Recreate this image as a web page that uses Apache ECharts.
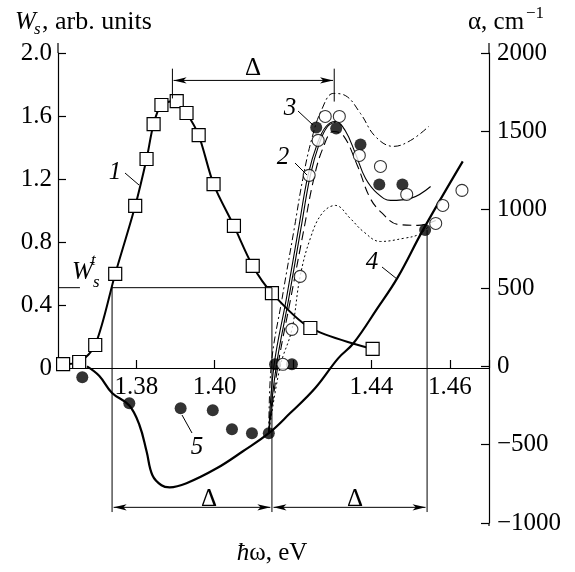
<!DOCTYPE html>
<html><head><meta charset="utf-8">
<script src="https://cdn.jsdelivr.net/npm/echarts@6/dist/echarts.min.js"></script>
<style>html,body{margin:0;padding:0;background:#fff}#c{width:575px;height:572px}</style>
</head><body><div id="c"></div>
<script>
const FONT = '"Liberation Serif","Times New Roman","DejaVu Serif",serif';

// ---- axes ----
const xRange = [1.36, 1.47];
const xLabelValues = [1.38, 1.40, 1.44, 1.46];
const wRange = [0, 2.0];
const alphaRange = [-1000, 2000];

// ---- curve 1: W_s (squares) ----
const c1X = [1.3613,1.3654,1.3695,1.3746,1.3797,1.3826,1.3844,1.3864,1.3903,1.3928,1.3959,1.3997,1.4049,1.4097,1.4146,1.4244,1.4403];
const c1W = [0.025,0.038,0.146,0.597,1.029,1.327,1.549,1.670,1.695,1.619,1.479,1.168,0.902,0.648,0.476,0.254,0.121];

// ---- curve 4 (thick solid, alpha) ----
const c4X = [1.3674,1.3705,1.3738,1.3782,1.3808,1.3826,1.3841,1.3864,1.3885,1.3928,1.4005,1.4072,1.4138,1.4192,1.4256,1.4315,1.4354,1.4415,1.4467,1.4531,1.4633];
const c4A = [0,-60,-170,-250,-376,-542,-695,-759,-772,-746,-651,-542,-427,-300,-140,51,147,370,568,868,1308];

// ---- points 5 (filled, negative alpha) ----
const p5X = [1.3662,1.3782,1.3913,1.3995,1.4044,1.4095,1.4138];
const p5A = [-70,-236,-268,-281,-402,-427,-427];

// ---- filled circles (alpha) ----
const fX = [1.4154,1.4197,1.4259,1.4310,1.4372,1.4420,1.4479,1.4537];
const fA = [13,13,1525,1518,1416,1161,1161,870];

// ---- open circles (alpha) ----
const oX = [1.4174,1.4197,1.4218,1.4241,1.4264,1.4282,1.4318,1.4369,1.4423,1.4490,1.4564,1.4582,1.4631];
const oA = [13,236,574,1219,1442,1595,1595,1346,1276,1097,912,1027,1123];

// ---- theory curves ----
const ddX = [1.4138,1.4144,1.4172,1.4203,1.4225,1.4248,1.4272,1.4303,1.4333,1.4372,1.4410,1.4456,1.4500,1.4546];
const ddA = [-427,0,434,880,1199,1455,1633,1742,1729,1614,1467,1404,1442,1531];
const sX = [1.4138,1.4151,1.4183,1.4214,1.4238,1.4262,1.4284,1.4308,1.4333,1.4359,1.4385,1.4415,1.4449,1.4500,1.4551];
const sA = [-427,0,434,880,1219,1423,1531,1563,1505,1359,1199,1104,1059,1072,1148];
const s2X = [1.4138,1.4157,1.4189,1.4220,1.4244,1.4267,1.4288,1.4310];
const s2A = [-427,0,434,880,1219,1423,1531,1560];
const dX = [1.4138,1.4161,1.4194,1.4228,1.4253,1.4276,1.4303,1.4328,1.4364,1.4397,1.4428,1.4467,1.4518,1.4564];
const dA = [-427,0,434,880,1199,1391,1499,1474,1282,1072,976,906,900,931];
const tX = [1.4138,1.4167,1.4197,1.4218,1.4244,1.4274,1.4308,1.4346,1.4379,1.4423,1.4482,1.4521,1.4546];
const tA = [-427,0,236,574,817,976,1027,944,861,797,817,842,893];

// ---- annotations (data units) ----
const Wt = 0.51;
const deltaLines = [1.3738, 1.4146, 1.4542];
const deltaTop = [1.3892, 1.4305];

const zip = (a,b) => a.map((v,i)=>[v,b[i]]);

const chart = echarts.init(document.getElementById('c'), null, {renderer:'canvas'});
const axisCol = '#000';
const FS = 25;
const thin = (x,a,type,w) => ({type:'line',xAxisIndex:0,yAxisIndex:0,data:zip(x,a),smooth:0.4,showSymbol:false,
     lineStyle:{color:'#000',width:w,type:type},z:3});
const option = {
  animation:false,
  backgroundColor:'#fff',
  grid:[{left:58,right:86,top:53,bottom:49},{left:58,right:86,top:53,height:315}],
  xAxis:[
    {gridIndex:0,type:'value',min:xRange[0],max:xRange[1],show:false},
    {gridIndex:1,type:'value',min:xRange[0],max:xRange[1],interval:0.02,position:'bottom',
     axisLine:{show:true,onZero:false,lineStyle:{color:axisCol,width:1.2}},
     axisTick:{show:true,inside:true,length:8,lineStyle:{color:axisCol,width:1.2}},
     axisLabel:{margin:7,color:'#000',fontFamily:FONT,fontSize:FS,
       formatter:v=>xLabelValues.some(t=>Math.abs(t-v)<1e-6)?v.toFixed(2):''},
     splitLine:{show:false}}
  ],
  yAxis:[
    {gridIndex:0,type:'value',position:'right',min:alphaRange[0],max:alphaRange[1],interval:500,
     axisLine:{show:true,lineStyle:{color:axisCol,width:1.2}},
     axisTick:{show:true,inside:true,length:8,lineStyle:{color:axisCol,width:1.2}},
     axisLabel:{margin:8,color:'#000',fontFamily:FONT,fontSize:FS,formatter:v=>String(v).replace('-','\u2212')},
     splitLine:{show:false}},
    {gridIndex:1,type:'value',position:'left',min:wRange[0],max:wRange[1],interval:0.4,
     axisLine:{show:true,lineStyle:{color:axisCol,width:1.2}},
     axisTick:{show:true,inside:true,length:8,lineStyle:{color:axisCol,width:1.2}},
     axisLabel:{margin:6,color:'#000',fontFamily:FONT,fontSize:FS,formatter:v=>v===0?'0':v.toFixed(1)},
     splitLine:{show:false}}
  ],
  series:[
    {type:'line',xAxisIndex:0,yAxisIndex:0,data:zip(c4X,c4A),smooth:0.4,showSymbol:false,
     lineStyle:{color:'#000',width:2.2},z:3},
    thin(ddX,ddA,[7,3,2,3],1),
    thin(sX,sA,'solid',1.1),
    thin(s2X,s2A,'solid',1.1),
    thin(dX,dA,[9,5],1.1),
    thin(tX,tA,[2,2.5],1),
    {type:'line',xAxisIndex:1,yAxisIndex:1,data:zip(c1X,c1W),smooth:0.3,symbol:'rect',symbolSize:13,showAllSymbol:true,
     itemStyle:{color:'#fff',borderColor:'#000',borderWidth:1.2},lineStyle:{color:'#000',width:2},z:6},
    {type:'scatter',xAxisIndex:0,yAxisIndex:0,data:zip(p5X,p5A),symbol:'circle',symbolSize:12,
     itemStyle:{color:'#000'},z:7},
    {type:'scatter',xAxisIndex:0,yAxisIndex:0,data:zip(fX,fA),symbol:'circle',symbolSize:12,
     itemStyle:{color:'#000'},z:7},
    {type:'scatter',xAxisIndex:0,yAxisIndex:0,data:zip(oX,oA),symbol:'circle',symbolSize:12,
     itemStyle:{color:'#fff',borderColor:'#000',borderWidth:1.1},z:8}
  ]
};
chart.setOption(option);

// ---- annotation graphics ----
const P = (x,a) => chart.convertToPixel({gridIndex:0},[x,a]);
const PW = (x,w) => chart.convertToPixel({gridIndex:1},[x,w]);
const g = [];
const line = (p1,p2,w) => g.push({type:'line',shape:{x1:p1[0],y1:p1[1],x2:p2[0],y2:p2[1]},style:{stroke:'#000',lineWidth:w||1},z:10});
function head(tip,from){
  const dx=tip[0]-from[0], dy=tip[1]-from[1], L=Math.hypot(dx,dy), ux=dx/L, uy=dy/L;
  const len=13, wd=3.2, bx=tip[0]-ux*len, by=tip[1]-uy*len, nx=-uy, ny=ux;
  g.push({type:'polygon',shape:{points:[[tip[0],tip[1]],[bx+nx*wd,by+ny*wd],[tip[0]-ux*len*0.75,tip[1]-uy*len*0.75],[bx-nx*wd,by-ny*wd]]},style:{fill:'#000'},z:10});
}
function dblArrow(p1,p2){
  line(p1,p2,1);
  head(p1,p2); head(p2,p1);
}
const txt = (x,y,text,size,italic,align) => g.push({type:'text',z:11,style:{x:x,y:y,text:text,
  font:(italic?'italic ':'')+size+'px '+FONT,fill:'#000',textAlign:align||'center',textVerticalAlign:'middle',align:align||'center',verticalAlign:'middle'}});

// axis line extensions above the top tick
const tl = PW(xRange[0],wRange[1]); line([tl[0],tl[1]-10],tl,1.2);
const tr = P(xRange[1],alphaRange[1]); line([tr[0],tr[1]-10],tr,1.2);
const br = P(xRange[1],alphaRange[0]); line(br,[br[0],br[1]+3],1.2);

// W_s^t lines
const wl0 = PW(xRange[0],Wt), wl1 = PW(1.3656,Wt);
line(wl0,wl1,1);
const wa = PW(deltaLines[0],Wt), wb = PW(deltaLines[1],Wt);
line(wa,wb,1);
// vertical lines
const yBottom = -930, yArrow = -900;
line(wa, P(deltaLines[0],yBottom),1);
line(wb, P(deltaLines[1],yBottom),1);
line(P(deltaLines[2],fA[fA.length-1]), P(deltaLines[2],yBottom),1);
// bottom arrows
dblArrow(P(deltaLines[0]+0.0004,yArrow),P(deltaLines[1]-0.0004,yArrow));
dblArrow(P(deltaLines[1]+0.0004,yArrow),P(deltaLines[2]-0.0004,yArrow));
// top arrow
line(P(deltaTop[0],1900),P(deltaTop[0],1710),1);
line(P(deltaTop[1],1900),P(deltaTop[1],1690),1);
dblArrow(P(deltaTop[0]+0.0003,1825),P(deltaTop[1]-0.0003,1825));

// labels
txt(253,68,'\u0394',25,false);
txt(209,499,'\u0394',25,false);
txt(355,499,'\u0394',25,false);
txt(115,172,'1',25,true); line([125,173],[139,185],1);
txt(283,157,'2',25,true); line([295,163],[307,175],1);
txt(290,108,'3',25,true); line([298,111],[313,125],1);
txt(372,262,'4',25,true); line([382,267],[397,279],1);
txt(197,447,'5',25,true); line([192,433],[182,415],1);
// W_s^t
txt(72,272,'W',25,true,'left');
txt(91,261,'t',17,true,'left');
txt(93,283,'s',17,true,'left');
// axis titles
txt(15,22,'W',25,true,'left');
txt(34,30,'s',17,true,'left');
txt(42,22,', arb. units',26,false,'left');
txt(468,22,'\u03b1, cm',25,false,'left');
txt(526,14,'\u22121',17,false,'left');
g.push({type:'text',z:11,style:{x:272,y:553,text:'{i|\u0127}\u03c9, eV',font:'25px '+FONT,fill:'#000',
  textAlign:'center',textVerticalAlign:'middle',align:'center',verticalAlign:'middle',
  rich:{i:{fontStyle:'italic',fontSize:25,fontFamily:FONT}}}});

chart.setOption({graphic:g});
</script>
</body></html>
